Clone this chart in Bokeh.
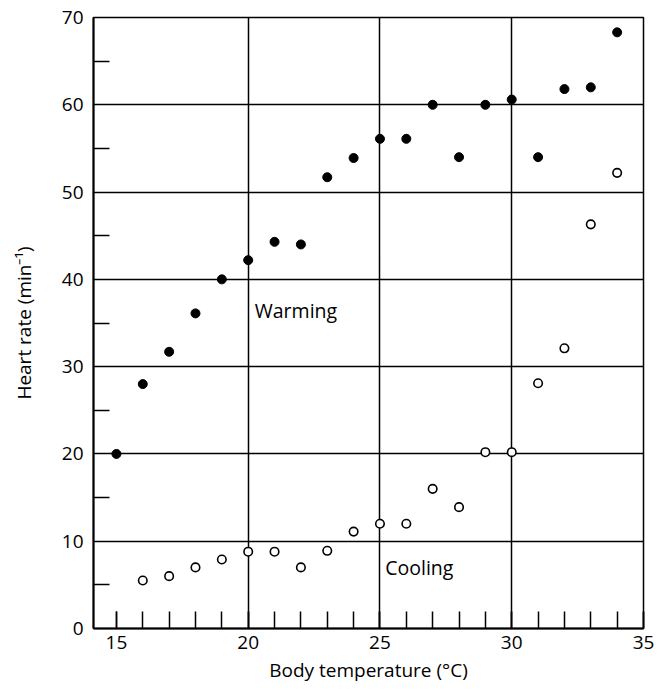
from bokeh.plotting import figure
from bokeh.models import FixedTicker, Label
from bokeh.embed import file_html
from bokeh.resources import INLINE

# Data
temps = [15, 16, 17, 18, 19, 20, 21, 22, 23, 24, 25, 26, 27, 28, 29, 30, 31, 32, 33, 34]
warming = [20, 28, 31.7, 36.1, 40, 42.2, 44.3, 44.0, 51.7, 53.9, 56.1, 56.1, 60.0, 54.0, 60.0, 60.6, 54.0, 61.8, 62.0, 68.3]
cool_temps = [16, 17, 18, 19, 20, 21, 22, 23, 24, 25, 26, 27, 28, 29, 30, 31, 32, 33, 34]
cooling = [5.5, 6.0, 7.0, 7.9, 8.8, 8.8, 7.0, 8.9, 11.1, 12.0, 12.0, 16.0, 13.9, 20.2, 20.2, 28.1, 32.1, 46.3, 52.2]

x_major = [15, 20, 25, 30, 35]
x_minor = list(range(15, 36))
y_major = [0, 10, 20, 30, 40, 50, 60, 70]
y_minor = [5, 15, 25, 35, 45, 55, 65]
x_grid = [20, 25, 30]
y_grid = [10, 20, 30, 40, 50, 60]

FONT = "Open Sans"

p = figure(width=658, height=688, x_range=(14.13, 35.0), y_range=(0, 70),
           output_backend="svg", toolbar_location=None,
           min_border_left=93, min_border_top=17, min_border_right=15, min_border_bottom=60)

p.outline_line_color = "black"
p.outline_line_width = 1.5
p.outline_line_alpha = 1.0

# Axes
p.xaxis.ticker = FixedTicker(ticks=x_major, minor_ticks=x_minor)
p.yaxis.ticker = FixedTicker(ticks=y_major, minor_ticks=y_minor)
for ax in (p.xaxis[0], p.yaxis[0]):
    ax.axis_line_color = "black"
    ax.axis_line_width = 2
    ax.major_tick_line_color = "black"
    ax.minor_tick_line_color = "black"
    ax.major_tick_line_width = 1.5
    ax.minor_tick_line_width = 1.5
    ax.major_label_text_font = FONT
    ax.major_label_text_font_size = "19px"
    ax.major_label_text_color = "black"
    ax.axis_label_text_font = FONT
    ax.axis_label_text_font_size = "19px"
    ax.axis_label_text_font_style = "normal"
    ax.axis_label_text_color = "black"

p.xaxis.major_tick_in = 17
p.xaxis.major_tick_out = 0
p.xaxis.minor_tick_in = 17
p.xaxis.minor_tick_out = 0
p.xaxis.major_label_standoff = 7
p.xaxis.axis_label = "Body temperature (°C)"
p.xaxis.axis_label_standoff = 5

p.yaxis.major_tick_in = 0
p.yaxis.major_tick_out = 0
p.yaxis.minor_tick_in = 16
p.yaxis.minor_tick_out = 0
p.yaxis.major_label_standoff = 10
p.yaxis.axis_label = "Heart rate (min⁻¹)"
p.yaxis.axis_label_standoff = 22

# Grid
p.xgrid.ticker = FixedTicker(ticks=x_grid)
p.ygrid.ticker = FixedTicker(ticks=y_grid)
for g in (p.xgrid[0], p.ygrid[0]):
    g.grid_line_color = "black"
    g.grid_line_width = 1.5
    g.grid_line_alpha = 1.0

# Data
p.scatter(temps, warming, size=9, fill_color="black", line_color="black")
p.scatter(cool_temps, cooling, size=8.5, fill_color="white", line_color="black", line_width=1.6)

p.add_layout(Label(x=20.25, y=36.4, text="Warming", text_font=FONT, text_font_size="19.5px",
                   text_baseline="alphabetic", text_align="left", text_color="black"))
p.add_layout(Label(x=25.2, y=7.0, text="Cooling", text_font=FONT, text_font_size="19.5px",
                   text_baseline="alphabetic", text_align="left", text_color="black"))

open("out.html", "w").write(file_html(p, INLINE))
